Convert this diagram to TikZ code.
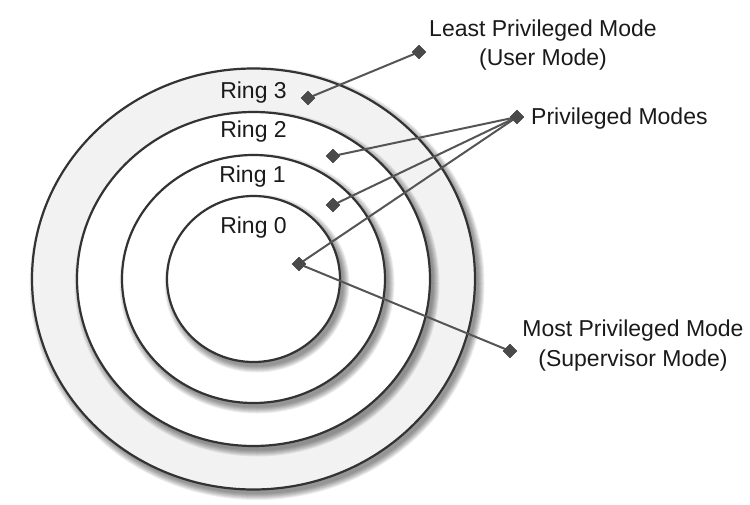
\documentclass[tikz,border=0pt]{standalone}
\usepackage{fontspec}
\setmainfont{Liberation Sans}
\definecolor{bandgray}{HTML}{F2F2F2}
\definecolor{ringline}{HTML}{333333}
\definecolor{leader}{HTML}{555555}
\definecolor{marker}{HTML}{4A4A4A}
\definecolor{txt}{HTML}{1A1A1A}
\tikzset{
  ringedge/.style={draw=ringline, line width=2.2pt},
  leadline/.style={draw=leader, line width=2pt},
  dmark/.style={shape=rectangle, fill=marker, minimum size=10pt, inner sep=0pt, rotate=45},
  lbl/.style={text=txt, font=\fontsize{23}{29.5}\selectfont, inner sep=0pt, align=center},
}
\newcommand{\ringshadow}[2]{%
  \foreach \k in {1,...,7} {
    \fill[black, opacity=0.07] (257,283.5) ellipse ({#1+7-\k} and {#2+7-\k});
  }}
\begin{document}
\begin{tikzpicture}[x=1pt,y=-1pt]
\useasboundingbox (0,0) rectangle (750,504);
\fill[white] (0,0) rectangle (750,504);
% rings, outer to inner
\ringshadow{221.5}{210.5}
\path[ringedge, fill=bandgray] (253.5,279) ellipse (221.5 and 210.5);
\ringshadow{176.5}{167}
\path[ringedge, fill=white] (253.5,279) ellipse (176.5 and 167);
\ringshadow{131.5}{124}
\path[ringedge, fill=white] (253.5,279) ellipse (131.5 and 124);
\ringshadow{86.5}{83}
\path[ringedge, fill=white] (253.5,279) ellipse (86.5 and 83);
% ring labels
\node[lbl] (r3) at (253.5,93) {Ring 3};
\node[lbl] (r2) at (253.5,132) {Ring 2};
\node[lbl] (r1) at (252.5,177) {Ring 1};
\node[lbl] (r0) at (253.5,228) {Ring 0};
% markers
\node[dmark] (mu) at (419,52) {};
\node[dmark] (m3) at (308,98) {};
\node[dmark] (mp) at (517,117) {};
\node[dmark] (m2) at (333,156) {};
\node[dmark] (m1) at (333,205) {};
\node[dmark] (m0) at (299,264) {};
\node[dmark] (ms) at (510,351) {};
% leader lines
\draw[leadline] (m3.center) -- (mu.center);
\draw[leadline] (mp.center) -- (m2.center);
\draw[leadline] (mp.center) -- (m1.center);
\draw[leadline] (mp.center) -- (m0.center);
\draw[leadline] (m0.center) -- (ms.center);
% redraw markers on top
\foreach \n in {mu,m3,mp,m2,m1,m0,ms} {\node[dmark] at (\n.center) {};}
% texts
\node[lbl] (tu) at (543,45) {Least Privileged Mode\\(User Mode)};
\node[lbl, anchor=west] (tp) at (531,119) {Privileged Modes};
\node[lbl] (ts) at (633,345.5) {Most Privileged Mode\\(Supervisor Mode)};
\end{tikzpicture}
\end{document}
